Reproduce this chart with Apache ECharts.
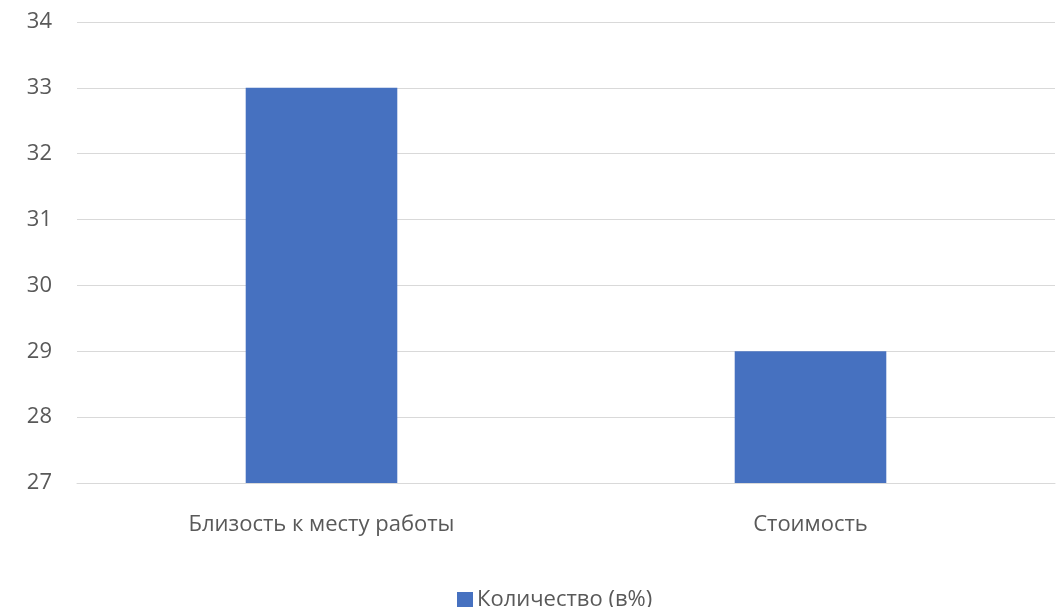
<!DOCTYPE html>
<html>
<head>
<meta charset="utf-8">
<script src="https://cdn.jsdelivr.net/npm/echarts@6/dist/echarts.min.js"></script>
<style>
html,body{margin:0;padding:0;background:#fff;}
#chart{width:1063px;height:607px;}
</style>
</head>
<body>
<div id="chart"></div>
<script>
const categories = ['Близость к месту работы', 'Стоимость'];
const seriesName = 'Количество (в%)';
const values = [33, 29];
const yMin = 27, yMax = 34, yStep = 1;

const chart = echarts.init(document.getElementById('chart'), null, {renderer: 'canvas'});
const font = 'Open Sans';
chart.setOption({
  animation: false,
  backgroundColor: '#ffffff',
  grid: {left: 77, right: 8, top: 22, bottom: 124, containLabel: false},
  legend: {
    data: [seriesName],
    left: 452,
    top: 584,
    icon: 'rect',
    itemWidth: 16,
    itemHeight: 16,
    itemGap: 4,
    textStyle: {fontFamily: font, fontSize: 22, color: '#595959', padding: [0,0,0,-1]}
  },
  xAxis: {
    type: 'category',
    data: categories,
    axisLine: {show: true, lineStyle: {color: '#d9d9d9', width: 1}},
    axisTick: {show: false},
    axisLabel: {fontFamily: font, fontSize: 22, color: '#595959', margin: 31}
  },
  yAxis: {
    type: 'value',
    min: yMin, max: yMax, interval: yStep,
    axisLine: {show: false},
    axisTick: {show: false},
    splitLine: {lineStyle: {color: '#d9d9d9', width: 1}},
    axisLabel: {fontFamily: font, fontSize: 22, color: '#595959', margin: 25}
  },
  series: [{
    name: seriesName,
    type: 'bar',
    data: values,
    barWidth: '31%',
    itemStyle: {color: '#4671C0'}
  }]
});
</script>
</body>
</html>
